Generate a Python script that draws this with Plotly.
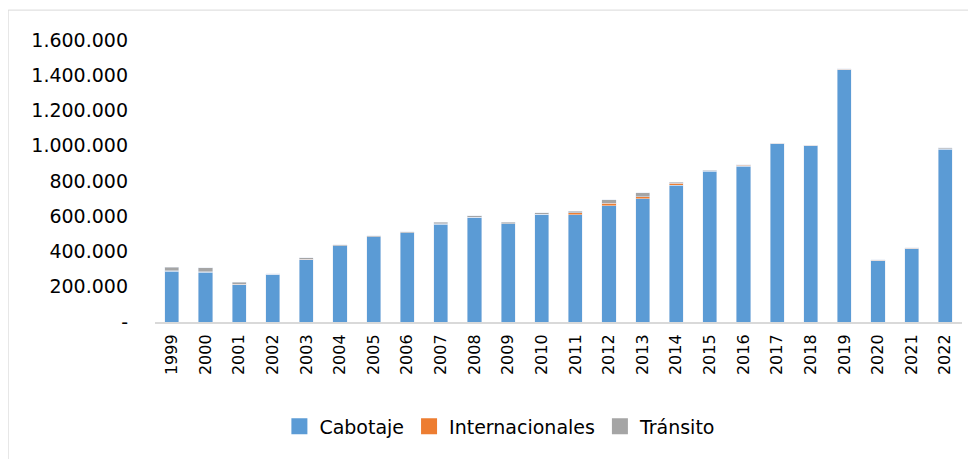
import plotly.graph_objects as go

years = [str(y) for y in range(1999, 2023)]

cabotaje = [287000, 282000, 212000, 270000, 354000, 433000, 484000, 506000,
            556000, 593000, 557000, 610000, 608000, 661000, 699000, 776000,
            855000, 885000, 1010000, 999000, 1430000, 348000, 416000, 980000]

internacionales = [3000, 2000, 2000, 1000, 2000, 1000, 1000, 1000,
                   1000, 1000, 1000, 2000, 11000, 13000, 11000, 11000,
                   4000, 3000, 3000, 3000, 4000, 3000, 3000, 2000]

transito = [22000, 23000, 11000, 3000, 9000, 4000, 3000, 5000,
            10000, 10000, 9000, 8000, 10000, 21000, 23000, 6000,
            3000, 4000, 2000, 2000, 3000, 2000, 2000, 7000]

series_names = ["Cabotaje", "Internacionales", "Tránsito"]
series_colors = ["#5B9BD5", "#ED7D31", "#A5A5A5"]

y_tick_vals = [0, 200000, 400000, 600000, 800000, 1000000, 1200000, 1400000, 1600000]
y_tick_text = ["-", "200.000", "400.000", "600.000", "800.000",
               "1.000.000", "1.200.000", "1.400.000", "1.600.000"]

FONT = "DejaVu Sans"

fig = go.Figure()
for vals, name, color in zip([cabotaje, internacionales, transito], series_names, series_colors):
    fig.add_trace(go.Bar(x=years, y=vals, name=name, marker_color=color,
                         legendgroup=name, showlegend=False))
for name, color in zip(series_names, series_colors):
    fig.add_trace(go.Scatter(x=[None], y=[None], mode="markers", name=name,
                             legendgroup=name,
                             marker=dict(symbol="square", size=16, color=color)))

fig.update_layout(
    width=976, height=459,
    barmode="stack",
    bargap=0.58,
    paper_bgcolor="white",
    plot_bgcolor="white",
    margin=dict(l=147, r=22, t=32, b=144.5, autoexpand=False),
    font=dict(family=FONT, color="#000000"),
    showlegend=True,
    legend=dict(
        orientation="h",
        x=0.428, xanchor="center",
        y=-0.37, yanchor="middle",
        font=dict(size=19, family=FONT, color="#000000"),
        bgcolor="rgba(0,0,0,0)",
        traceorder="normal",
        itemwidth=30,
    ),
)

fig.update_xaxes(
    type="category",
    categoryorder="array",
    categoryarray=years,
    tickangle=-90,
    tickfont=dict(size=16, family=FONT, color="#000000"),
    showgrid=False,
    showline=True,
    linecolor="#D9D9D9",
    linewidth=2,
    ticks="",
    ticklabelstandoff=4,
)

fig.update_yaxes(
    range=[0, 1600000],
    tickvals=y_tick_vals,
    ticktext=y_tick_text,
    tickfont=dict(size=19, family=FONT, color="#000000"),
    showgrid=False,
    zeroline=False,
    showline=False,
    ticks="",
    ticklabelstandoff=26,
)

fig.add_shape(
    type="rect", xref="paper", yref="paper",
    x0=-0.182, x1=1.05, y0=-0.6, y1=1.106,
    line=dict(color="#D9D9D9", width=1),
    fillcolor="rgba(0,0,0,0)",
    layer="below",
)

fig.write_html("out.html")
